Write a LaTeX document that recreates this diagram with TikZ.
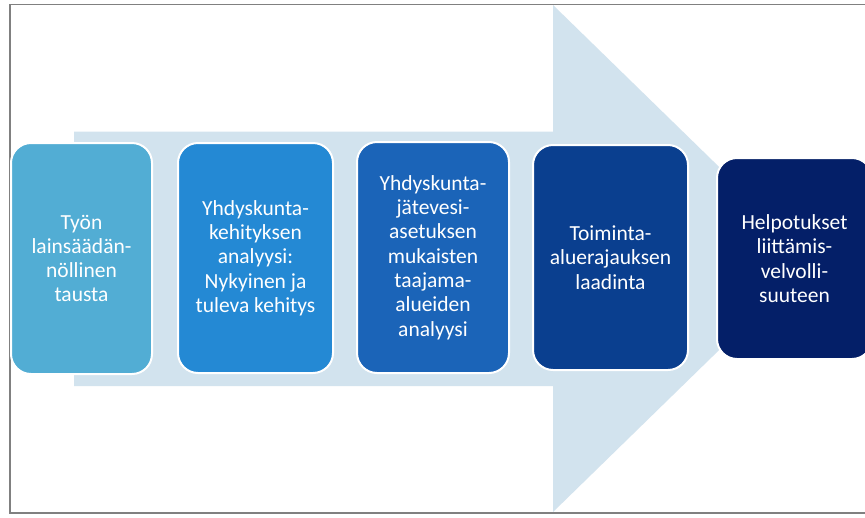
\documentclass[tikz,border=0pt]{standalone}
\usepackage{fontspec}
\setmainfont{Carlito}
\definecolor{framegray}{HTML}{808080}
\definecolor{arrowblue}{HTML}{D2E3EE}
\definecolor{cA}{HTML}{52ADD4}
\definecolor{cB}{HTML}{2489D4}
\definecolor{cC}{HTML}{1B64B8}
\definecolor{cD}{HTML}{0A3F8F}
\definecolor{cE}{HTML}{041F68}
\tikzset{
  stepbox/.style={draw=white, line width=2pt, rounded corners=20pt, text=white,
    align=center, inner sep=0pt,
    font=\fontsize{21.5pt}{24.3pt}\selectfont},
}
\begin{document}
\begin{tikzpicture}[x=1pt,y=-1pt]
\clip (0,0) rectangle (865,517);
\fill[white] (0,0) rectangle (865,517);
% frame
\draw[framegray, line width=1.5pt] (10,4.5) rectangle (900,513);
% big background arrow
\fill[arrowblue] (74,131.5) -- (553,131.5) -- (553,5) -- (813,258.5)
  -- (553,512) -- (553,386) -- (74,386) -- cycle;
% boxes
\node[stepbox, fill=cA, minimum width=141pt, minimum height=231pt] (b1) at (81.5,258.5)
  {Työn\\lainsäädän-\\nöllinen\\tausta};
\node[stepbox, fill=cB, minimum width=155pt, minimum height=230pt] (b2) at (255.5,258)
  {Yhdyskunta-\\kehityksen\\analyysi:\\Nykyinen ja\\tuleva kehitys};
\node[stepbox, fill=cC, minimum width=152pt, minimum height=231pt] (b3) at (433,257.5)
  {Yhdyskunta-\\jätevesi-\\asetuksen\\mukaisten\\taajama-\\alueiden\\analyysi};
\node[stepbox, fill=cD, minimum width=155pt, minimum height=225pt] (b4) at (610.5,257.5)
  {Toiminta-\\aluerajauksen\\laadinta};
\node[stepbox, fill=cE, minimum width=155pt, minimum height=201pt] (b5) at (794.5,258.5)
  {Helpotukset\\liittämis-\\velvolli-\\suuteen};
\end{tikzpicture}
\end{document}
